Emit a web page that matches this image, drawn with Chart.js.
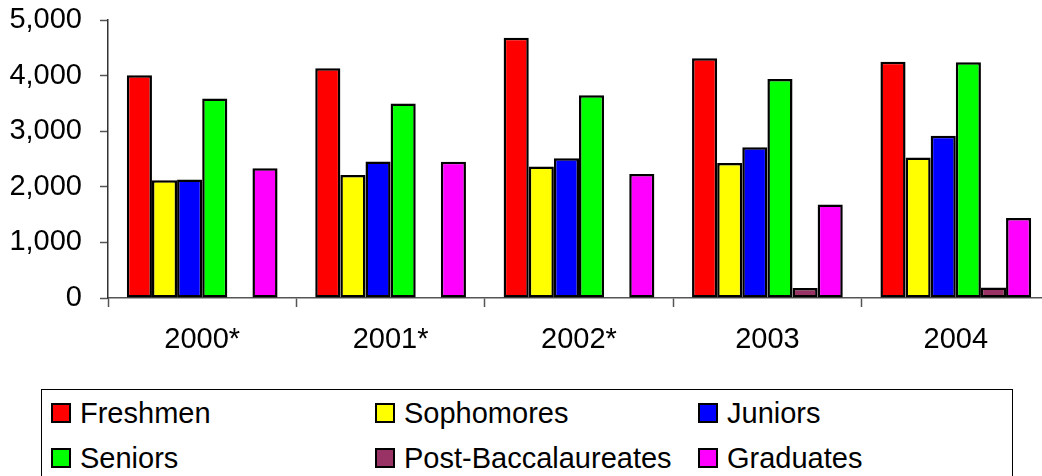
<!DOCTYPE html>
<html>
<head>
<meta charset="utf-8">
<script src="https://cdn.jsdelivr.net/npm/chart.js@4/dist/chart.umd.min.js"></script>
<style>
  html, body { margin: 0; padding: 0; background: #fff; overflow: hidden; width: 1042px; height: 476px; }
  #wrap { position: absolute; left: 0; top: 0; width: 1060px; height: 380px; }
  #legend { position: absolute; left: 41px; top: 389px; width: 972px; height: 120px; border: 1px solid #000; box-sizing: border-box; font-family: "Liberation Sans", Arial, sans-serif; font-size: 29px; color: #000; }
  .item { position: absolute; height: 34px; line-height: 34px; white-space: nowrap; }
  .sw { position: absolute; left: 0; top: 7px; width: 20px; height: 20px; box-sizing: border-box; border: 2px solid #000; }
  .lbl { position: absolute; left: 29px; top: 0; }
</style>
</head>
<body>
<div id="wrap"><canvas id="c"></canvas></div>
<div id="legend"></div>
<script>
const categories = ["2000*", "2001*", "2002*", "2003", "2004"];
const seriesNames = ["Freshmen", "Sophomores", "Juniors", "Seniors", "Post-Baccalaureates", "Graduates"];
const freshmen = [4005, 4130, 4680, 4310, 4250];
const sophomores = [2120, 2210, 2365, 2430, 2525];
const juniors = [2130, 2455, 2515, 2710, 2920];
const seniors = [3590, 3500, 3645, 3940, 4240];
const postBacc = [null, null, null, 180, 190];
const graduates = [2335, 2450, 2230, 1680, 1440];
const colors = ["#FF0000", "#FFFF00", "#0000FF", "#00FF00", "#993366", "#FF00FF"];
const yTicks = [0, 1000, 2000, 3000, 4000, 5000];

const seriesValues = [freshmen, sophomores, juniors, seniors, postBacc, graduates];
const FONT = "'Liberation Sans', Arial, sans-serif";

const datasets = seriesNames.map((name, i) => ({
  label: name,
  data: seriesValues[i],
  backgroundColor: colors[i],
  borderColor: "#000",
  borderWidth: 2.5,
  borderSkipped: false,
  barPercentage: 1.0,
  categoryPercentage: 0.8
}));

const chart = new Chart(document.getElementById('c'), {
  type: 'bar',
  data: { labels: categories, datasets },
  options: {
    responsive: true,
    maintainAspectRatio: false,
    animation: false,
    layout: { padding: { top: 20, right: 10, left: 0, bottom: 0 } },
    plugins: { legend: { display: false }, tooltip: { enabled: false } },
    scales: {
      x: {
        grid: { display: true, drawOnChartArea: false, offset: true, tickLength: 9, color: '#555', tickWidth: 1.5 },
        border: { display: true, color: '#555', width: 1.5 },
        ticks: { font: { family: FONT, size: 29 }, color: '#000', padding: 16, maxRotation: 0 },
        afterFit: (s) => { s.height = 82; s.paddingLeft = 0; s.paddingRight = 0; }
      },
      y: {
        min: 0, max: 5000,
        afterBuildTicks: (s) => { s.ticks = yTicks.map(v => ({ value: v })); },
        grid: { display: true, drawOnChartArea: false, tickLength: 8, color: '#555', tickWidth: 1.5 },
        border: { display: true, color: '#333', width: 1.5 },
        ticks: { font: { family: FONT, size: 29 }, color: '#000', padding: 18,
                 callback: (v) => Number(v).toLocaleString('en-US') },
        afterFit: (s) => { s.width = 108; s.paddingTop = 0; s.paddingBottom = 0; }
      }
    }
  }
});

// Legend built from the chart's datasets (3 columns, 2 rows)
const legendPos = [
  { x: 9, y: 6 }, { x: 333, y: 6 }, { x: 656, y: 6 },
  { x: 9, y: 51 }, { x: 333, y: 51 }, { x: 656, y: 51 }
];
const legend = document.getElementById('legend');
chart.data.datasets.forEach((ds, i) => {
  const p = legendPos[i];
  const it = document.createElement('div');
  it.className = 'item';
  it.style.left = p.x + 'px';
  it.style.top = p.y + 'px';
  const sw = document.createElement('div');
  sw.className = 'sw';
  sw.style.background = ds.backgroundColor;
  const lb = document.createElement('div');
  lb.className = 'lbl';
  lb.textContent = ds.label;
  it.appendChild(sw); it.appendChild(lb);
  legend.appendChild(it);
});
</script>
</body>
</html>
